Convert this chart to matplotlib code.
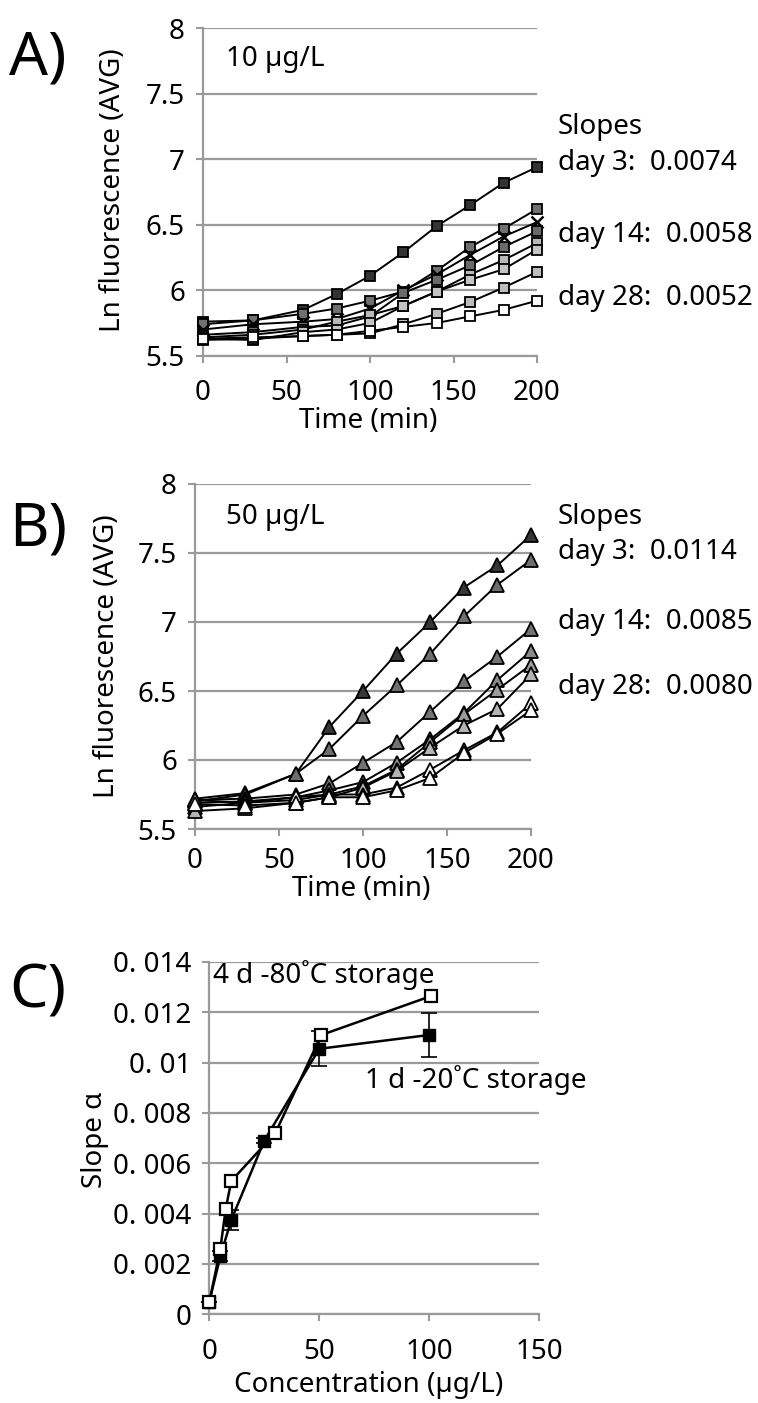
import matplotlib
matplotlib.use("Agg")
import matplotlib.pyplot as plt

plt.rcParams["font.family"] = ["Noto Sans", "DejaVu Sans"]

# time axis shared by panels A and B (min)
TIME = [0, 30, 60, 80, 100, 120, 140, 160, 180, 200]

# panel A - 10 µg/L, ln fluorescence
a_s1 = [5.76, 5.77, 5.85, 5.97, 6.11, 6.29, 6.49, 6.65, 6.82, 6.94]
a_s2 = [5.74, 5.77, 5.82, 5.86, 5.92, 5.99, 6.15, 6.33, 6.47, 6.62]
a_s3 = [5.70, 5.74, 5.76, 5.78, 5.86, 6.00, 6.12, 6.27, 6.41, 6.52]
a_s4 = [5.66, 5.68, 5.72, 5.73, 5.80, 5.98, 6.08, 6.19, 6.33, 6.45]
a_s5 = [5.64, 5.66, 5.70, 5.76, 5.81, 5.88, 5.99, 6.12, 6.23, 6.36]
a_s6 = [5.63, 5.62, 5.68, 5.70, 5.75, 5.88, 5.99, 6.08, 6.16, 6.31]
a_s7 = [5.62, 5.63, 5.65, 5.66, 5.67, 5.74, 5.82, 5.91, 6.02, 6.14]
a_s8 = [5.63, 5.64, 5.65, 5.66, 5.69, 5.72, 5.75, 5.80, 5.85, 5.92]
a_slopes = ["0.0074", "0.0058", "0.0052"]

# panel B - 50 µg/L
b_s1 = [5.72, 5.76, 5.90, 6.24, 6.50, 6.77, 7.00, 7.25, 7.41, 7.63]
b_s2 = [5.70, 5.75, 5.90, 6.08, 6.32, 6.54, 6.77, 7.04, 7.27, 7.45]
b_s3 = [5.71, 5.72, 5.75, 5.83, 5.98, 6.13, 6.35, 6.57, 6.75, 6.95]
b_s4 = [5.69, 5.70, 5.73, 5.78, 5.84, 5.98, 6.15, 6.34, 6.58, 6.79]
b_s5 = [5.66, 5.69, 5.71, 5.75, 5.81, 5.93, 6.13, 6.33, 6.51, 6.69]
b_s6 = [5.63, 5.65, 5.69, 5.73, 5.80, 5.92, 6.09, 6.25, 6.37, 6.62]
b_s7 = [5.71, 5.69, 5.73, 5.75, 5.75, 5.80, 5.93, 6.07, 6.20, 6.41]
b_s8 = [5.68, 5.67, 5.69, 5.73, 5.73, 5.78, 5.87, 6.05, 6.19, 6.36]
b_slopes = ["0.0114", "0.0085", "0.0080"]

# panel C - slope vs concentration
c_conc_80 = [0, 5, 7.5, 10, 30, 51, 101]
c_slope_80 = [0.00048, 0.0026, 0.0042, 0.0053, 0.0072, 0.0111, 0.01265]
c_conc_20 = [0, 5, 10, 25, 50, 100]
c_slope_20 = [0.0005, 0.0023, 0.00375, 0.0069, 0.01055, 0.0111]
c_err_20 = [0, 0.0002, 0.0004, 0.0001, 0.0007, 0.00087]

A_COLORS = ["#333333", "#707070", "#8a8a8a", "#6a6a6a", "#b8b8b8", "#c4c4c4", "#bdbdbd", "#ffffff"]
A_MARKERS = ["s", "s", "x", "s", "s", "s", "s", "s"]
B_COLORS = ["#363636", "#6e6e6e", "#737373", "#8a8a8a", "#9c9c9c", "#b4b4b4", "#ffffff", "#ffffff"]

GRID = "#9a9a9a"
FS = 20

W, H = 758, 1403
fig = plt.figure(figsize=(W / 100, H / 100), dpi=100)


def box(l, t, r, b):
    return [l / W, 1 - b / H, (r - l) / W, (b - t) / H]


def style_axes(ax, xpad=12):
    for s in ["top", "right"]:
        ax.spines[s].set_visible(False)
    for s in ["left", "bottom"]:
        ax.spines[s].set_color(GRID)
        ax.spines[s].set_linewidth(1.6)
    ax.yaxis.grid(True, color=GRID, linewidth=1.6)
    ax.set_axisbelow(True)
    ax.tick_params(axis="both", direction="out", length=5, width=1.5,
                   color=GRID, labelsize=FS)
    ax.tick_params(axis="x", pad=xpad)
    ax.tick_params(axis="y", pad=8)


def fluor_panel(ax, series, colors, markers, ms):
    for ys, c, m in zip(series, colors, markers):
        if m == "x":
            ax.plot(TIME, ys, color="black", lw=1.4, marker="x", ms=9,
                    mew=1.8, clip_on=False, zorder=3)
        else:
            ax.plot(TIME, ys, color="black", lw=1.4, marker=m, ms=ms,
                    mfc=c, mec="black", mew=1.3, clip_on=False, zorder=3)
    ax.set_xlim(0, 200)
    ax.set_ylim(5.5, 8)
    ax.set_xticks([0, 50, 100, 150, 200])
    ax.set_yticks([5.5, 6, 6.5, 7, 7.5, 8])
    ax.set_yticklabels(["5.5", "6", "6.5", "7", "7.5", "8"])
    ax.set_xlabel("Time (min)", fontsize=FS)
    ax.set_ylabel("Ln fluorescence (AVG)", fontsize=FS)


# ---- Panel A
axA = fig.add_axes(box(203, 28.3, 537, 355.7))
style_axes(axA)
fluor_panel(axA, [a_s1, a_s2, a_s3, a_s4, a_s5, a_s6, a_s7, a_s8],
            A_COLORS, A_MARKERS, 7.5)
axA.xaxis.set_label_coords(0.494, -0.158)
axA.yaxis.set_label_coords(-0.227, 0.506)
axA.text(0.069, 0.906, "10 µg/L", transform=axA.transAxes, fontsize=FS,
         va="center", ha="left")
axA.text(1.063, 0.6985, "Slopes", transform=axA.transAxes, fontsize=FS, va="center")
for lab, sl, y in zip(["day 3", "day 14", "day 28"], a_slopes, [0.5886, 0.3687, 0.1765]):
    axA.text(1.063, y, f"{lab}:  {sl}", transform=axA.transAxes, fontsize=FS, va="center")

# ---- Panel B
axB = fig.add_axes(box(195, 484, 531, 829))
style_axes(axB, xpad=8)
fluor_panel(axB, [b_s1, b_s2, b_s3, b_s4, b_s5, b_s6, b_s7, b_s8],
            B_COLORS, ["^"] * 8, 10)
axB.xaxis.set_label_coords(0.494, -0.134)
axB.yaxis.set_label_coords(-0.22, 0.501)
axB.text(0.092, 0.904, "50 µg/L", transform=axB.transAxes, fontsize=FS,
         va="center", ha="left")
axB.text(1.08, 0.904, "Slopes", transform=axB.transAxes, fontsize=FS, va="center")
for lab, sl, y in zip(["day 3", "day 14", "day 28"], b_slopes, [0.803, 0.6, 0.412]):
    axB.text(1.08, y, f"{lab}:  {sl}", transform=axB.transAxes, fontsize=FS, va="center")

# ---- Panel C
axC = fig.add_axes(box(209.3, 962, 539, 1314.3))
style_axes(axC)
axC.errorbar(c_conc_20, c_slope_20, yerr=c_err_20, color="black", lw=1.8,
             marker="s", ms=9, mfc="black", mec="black", ecolor="black",
             elinewidth=1.2, capsize=6, capthick=1.2, clip_on=False, zorder=3)
axC.plot(c_conc_80, c_slope_80, color="black", lw=1.8, marker="s", ms=9,
         mfc="white", mec="black", mew=1.6, clip_on=False, zorder=4)
axC.set_xlim(0, 150)
axC.set_ylim(0, 0.014)
axC.set_xticks([0, 50, 100, 150])
yt = [0, 0.002, 0.004, 0.006, 0.008, 0.01, 0.012, 0.014]
axC.set_yticks(yt)
axC.set_yticklabels(["0", "0. 002", "0. 004", "0. 006", "0. 008", "0. 01", "0. 012", "0. 014"])
axC.set_xlabel("Concentration (µg/L)", fontsize=FS)
axC.set_ylabel("Slope α", fontsize=FS)
axC.xaxis.set_label_coords(0.484, -0.162)
axC.yaxis.set_label_coords(-0.304, 0.495)
axC.text(0.011, 0.963, "4 d -80˚C storage", transform=axC.transAxes,
         fontsize=FS, va="center", ha="left")
axC.text(0.472, 0.665, "1 d -20˚C storage", transform=axC.transAxes,
         fontsize=FS, va="center", ha="left")

# panel letters
for lab, y in [("A)", 59), ("B)", 530), ("C)", 992)]:
    fig.text(38 / W, 1 - y / H, lab, fontsize=44, ha="center", va="center")

fig.savefig("out.png", dpi=100)
